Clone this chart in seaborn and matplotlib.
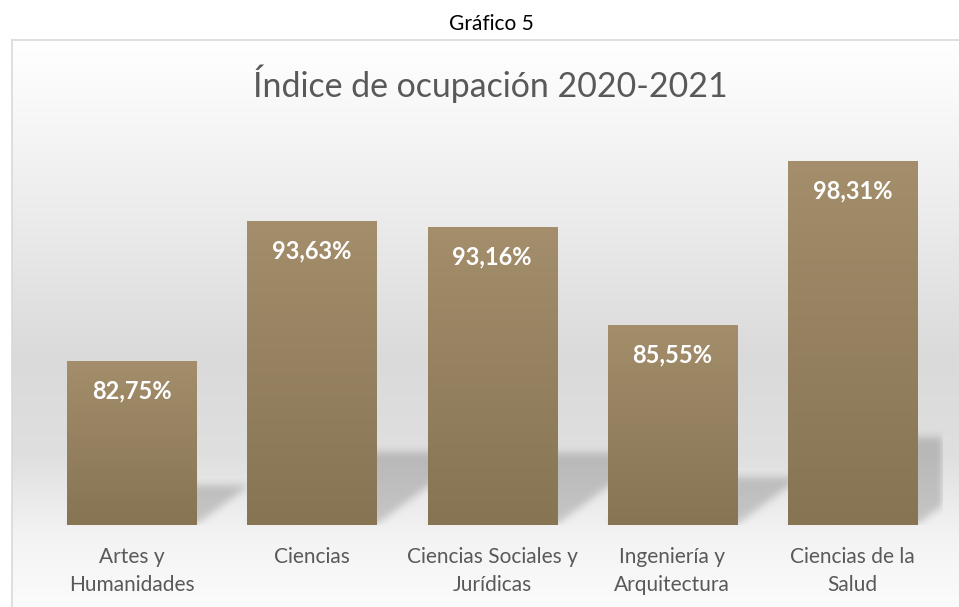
import numpy as np
import pandas as pd
import seaborn as sns
import matplotlib.pyplot as plt
from matplotlib.colors import to_rgb

# datos del grafico
categorias = ["Artes y\nHumanidades", "Ciencias", "Ciencias Sociales y\nJurídicas",
              "Ingeniería y\nArquitectura", "Ciencias de la\nSalud"]
ocupacion = [82.75, 93.63, 93.16, 85.55, 98.31]
etiquetas = ["82,75%", "93,63%", "93,16%", "85,55%", "98,31%"]

df = pd.DataFrame({"area": categorias, "ocupacion": ocupacion})

sns.set_theme(style="white")
plt.rcParams["font.family"] = ["Lato", "DejaVu Sans"]

W, H = 959, 607
fig = plt.figure(figsize=(W / 100, H / 100), dpi=100)
fig.patch.set_facecolor("white")

# marco del grafico con fondo degradado
bg = fig.add_axes([12 / W, -0.02, 1.0, (H - 40) / H + 0.02])
bg.set_xlim(0, 1)
bg.set_ylim(0, 1)
pos = np.linspace(0, 1, 400)  # 0 = arriba
grey = np.interp(pos, [0, 0.05, 0.30, 0.55, 0.72, 0.86, 1.0],
                 [1.0, 0.99, 0.925, 0.855, 0.875, 0.955, 0.99])
img = np.repeat(grey[:, None], 3, axis=1)[:, None, :]
bg.imshow(img, extent=[0, 1, 0, 1], aspect="auto", origin="upper", zorder=0)
bg.set_xticks([])
bg.set_yticks([])
for s in bg.spines.values():
    s.set_color("#d9d9d9")
    s.set_linewidth(1.2)

# grafico de barras
ax = fig.add_axes([41.3 / W, (H - 525) / H, 901.5 / W, 386 / H])
ax.patch.set_alpha(0)
sns.barplot(data=df, x="area", y="ocupacion", ax=ax, width=0.716,
            color="#96835f", saturation=1)
ax.set_ylim(70, 100)
ax.set_xlim(-0.5, len(categorias) - 0.5)
ymin, ymax = ax.get_ylim()
xmin, xmax = ax.get_xlim()

# pixeles por unidad de datos
p0 = ax.transData.transform((0, ymin))
p1 = ax.transData.transform((1, ymin + 1))
px_x, px_y = p1[0] - p0[0], p1[1] - p0[1]

# sombra en perspectiva (mascara + desenfoque)
nx, ny = int(round((xmax - xmin) * px_x)), int(round((ymax - ymin) * px_y))
xs = np.linspace(xmin, xmax, nx)[None, :]
ys = np.linspace(ymax, ymin, ny)[:, None]
mask = np.zeros((ny, nx))
skew = 1.35 * px_y / px_x
for p in ax.patches:
    x0, w, h = p.get_x(), p.get_width(), p.get_height()
    rise = 0.24 * (h - ymin)
    sx = xs - skew * (ys - ymin)
    inside = (sx >= x0) & (sx <= x0 + w) & (ys >= ymin) & (ys <= ymin + rise)
    mask = np.maximum(mask, inside.astype(float))


def box_blur(a, r):
    k = np.ones(2 * r + 1) / (2 * r + 1)
    a = np.apply_along_axis(lambda v: np.convolve(v, k, mode="same"), 1, a)
    a = np.apply_along_axis(lambda v: np.convolve(v, k, mode="same"), 0, a)
    return a


mask = box_blur(box_blur(mask, 4), 4)
shadow = np.zeros((ny, nx, 4))
shadow[..., :3] = 0.25
shadow[..., 3] = 0.24 * mask
ax.imshow(shadow, extent=[xmin, xmax, ymin, ymax], aspect="auto",
          origin="upper", zorder=1)

# relleno degradado de las barras
top_c = np.array(to_rgb("#a48e6c"))
bot_c = np.array(to_rgb("#867452"))
grad = np.linspace(0, 1, 200)[:, None, None]
grad_img = top_c[None, None, :] * (1 - grad) + bot_c[None, None, :] * grad

for p in ax.patches:
    x0, w, h = p.get_x(), p.get_width(), p.get_height()
    im = ax.imshow(grad_img, extent=[x0, x0 + w, ymin, h], aspect="auto",
                   origin="upper", zorder=3)
    im.set_clip_path(p)
    p.set_facecolor("none")
    p.set_edgecolor("none")
    p.set_zorder(3)

ax.set_xlim(xmin, xmax)
ax.set_ylim(ymin, ymax)

for i, (v, t) in enumerate(zip(ocupacion, etiquetas)):
    ax.annotate(t, (i, v), xytext=(0, -30), textcoords="offset pixels",
                ha="center", va="center", color="white", fontsize=17,
                fontweight="bold", zorder=5)

ax.set_xlabel("")
ax.set_ylabel("")
ax.set_yticks([])
ax.set_xticks(range(len(categorias)))
ax.set_xticklabels(categorias, color="#595959", fontsize=15, linespacing=1.5)
ax.tick_params(axis="x", length=0, pad=16)
sns.despine(ax=ax, left=True, bottom=True)

fig.text(490 / W, 1 - 97 / H, "Índice de ocupación 2020-2021", ha="center",
         va="baseline", color="#595959", fontsize=24.4)
fig.text(491 / W, 1 - 24 / H, "Gráfico 5", ha="center", va="center",
         color="black", fontsize=15)

fig.savefig("out.png", dpi=100)
